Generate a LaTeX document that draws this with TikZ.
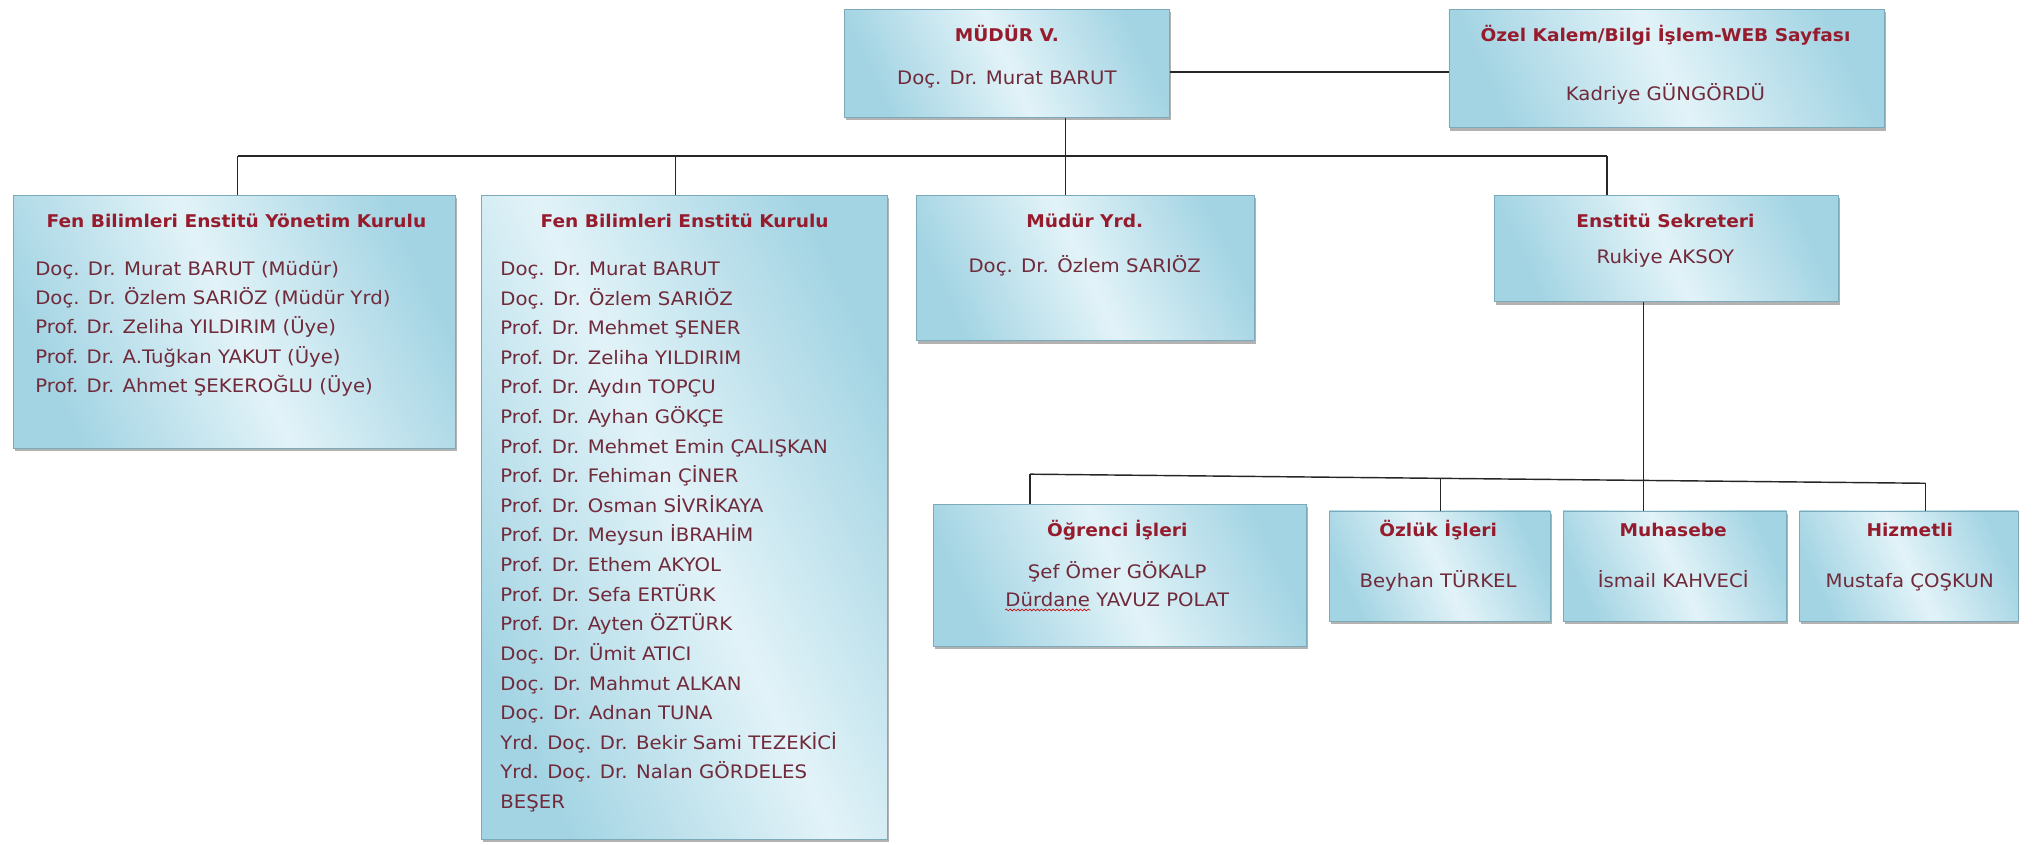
\documentclass[tikz,border=0pt]{standalone}
\usepackage{fontspec}
\setmainfont[FakeStretch=1.06]{DejaVu Sans}
\usetikzlibrary{shadows,calc,decorations.pathmorphing}
\definecolor{ttlc}{RGB}{150,28,45}
\definecolor{nmc}{RGB}{112,42,58}
\definecolor{bxA}{RGB}{226,243,248}
\definecolor{bxB}{RGB}{163,212,227}
\definecolor{bxline}{RGB}{125,170,185}
\tikzset{
  x=1pt, y=-1pt,
  box/.style={draw=bxline, line width=0.6pt, anchor=north west, inner sep=0pt,
    left color=bxB, right color=bxB, middle color=bxA, shading angle=115,
    drop shadow={shadow xshift=1.2pt, shadow yshift=-2.2pt, fill=black!55, opacity=0.55}},
  ttl/.style={font=\bfseries\fontsize{13.5}{16}\selectfont, text=ttlc, inner sep=0pt},
  nm/.style={font=\fontsize{14.3}{16}\selectfont, text=nmc, inner sep=0pt},
  con/.style={draw=black!85, line width=1.1pt},
}
\begin{document}
\begin{tikzpicture}
\useasboundingbox (0,0) rectangle (1568,650);
% boxes
\node[box, minimum width=250pt, minimum height=83pt] (mud) at (650,7) {};
\node[box, minimum width=335pt, minimum height=91pt] (ozel) at (1115,7) {};
\node[box, minimum width=340pt, minimum height=195pt] (yk) at (10,150) {};
\node[box, minimum width=313pt, minimum height=496pt] (kur) at (370,150) {};
\node[box, minimum width=260pt, minimum height=112pt] (my) at (705,150) {};
\node[box, minimum width=265pt, minimum height=82pt] (sek) at (1150,150) {};
\node[box, minimum width=287pt, minimum height=109pt] (ogr) at (718,388) {};
\node[box, minimum width=170pt, minimum height=85pt] (ozl) at (1023,393) {};
\node[box, minimum width=172pt, minimum height=85pt] (muh) at (1203,393) {};
\node[box, minimum width=168pt, minimum height=85pt] (hiz) at (1385,393) {};
% texts (base anchors, baseline = centre + 5)
\node[ttl, anchor=base] (t1) at (775,32) {MÜDÜR V.};
\node[nm, anchor=base] (n1) at (775,65) {Doç. Dr. Murat BARUT};
\node[ttl, anchor=base] (t2) at (1282,32) {Özel Kalem/Bilgi İşlem-WEB Sayfası};
\node[nm, anchor=base] (n2) at (1282,77) {Kadriye GÜNGÖRDÜ};
\node[ttl, anchor=base] (t3) at (182,175) {Fen Bilimleri Enstitü Yönetim Kurulu};
\foreach \t [count=\i from 0] in {Doç. Dr. Murat BARUT (Müdür),Doç. Dr. Özlem SARIÖZ (Müdür Yrd),Prof. Dr. Zeliha YILDIRIM (Üye),Prof. Dr. A.Tuğkan YAKUT (Üye),Prof. Dr. Ahmet ŞEKEROĞLU (Üye)}
  \node[nm, anchor=base west] (yl\i) at (27,212+22.5*\i) {\t};
\node[ttl, anchor=base] (t4) at (527,175) {Fen Bilimleri Enstitü Kurulu};
\foreach \t [count=\i from 0] in {Doç. Dr. Murat BARUT,Doç. Dr. Özlem SARIÖZ,Prof. Dr. Mehmet ŞENER,Prof. Dr. Zeliha YILDIRIM,Prof. Dr. Aydın TOPÇU,Prof. Dr. Ayhan GÖKÇE,Prof. Dr. Mehmet Emin ÇALIŞKAN,Prof. Dr. Fehiman ÇİNER,Prof. Dr. Osman SİVRİKAYA,Prof. Dr. Meysun İBRAHİM,Prof. Dr. Ethem AKYOL,Prof. Dr. Sefa ERTÜRK,Prof. Dr. Ayten ÖZTÜRK,Doç. Dr. Ümit ATICI,Doç. Dr. Mahmut ALKAN,Doç. Dr. Adnan TUNA,Yrd. Doç. Dr. Bekir Sami TEZEKİCİ,Yrd. Doç. Dr. Nalan GÖRDELES,BEŞER}
  \node[nm, anchor=base west] (kl\i) at (385,212+22.8*\i) {\t};
\node[ttl, anchor=base] (t5) at (835,175) {Müdür Yrd.};
\node[nm, anchor=base] (n5) at (835,210) {Doç. Dr. Özlem SARIÖZ};
\node[ttl, anchor=base] (t6) at (1282,175) {Enstitü Sekreteri};
\node[nm, anchor=base] (n6) at (1282,203) {Rukiye AKSOY};
\node[ttl, anchor=base] (t7) at (860,413) {Öğrenci İşleri};
\node[nm, anchor=base] (n7) at (860,445) {Şef Ömer GÖKALP};
\node[nm, anchor=base] (n7b) at (860,467) {\phantom{Dürdane} YAVUZ POLAT};
\node[nm, anchor=base west] (n7c) at (n7b.base west) {Dürdane};
\draw[red!80!black, line width=0.5pt, decorate, decoration={snake, amplitude=0.7pt, segment length=3pt}]
  ([yshift=-2.5pt]n7c.base west) -- ([yshift=-2.5pt]n7c.base east);
\node[ttl, anchor=base] (t8) at (1107,413) {Özlük İşleri};
\node[nm, anchor=base] (n8) at (1107,452) {Beyhan TÜRKEL};
\node[ttl, anchor=base] (t9) at (1288,413) {Muhasebe};
\node[nm, anchor=base] (n9) at (1288,452) {İsmail KAHVECİ};
\node[ttl, anchor=base] (t10) at (1470,413) {Hizmetli};
\node[nm, anchor=base] (n10) at (1470,452) {Mustafa ÇOŞKUN};
% connectors top
\coordinate (me) at ($(mud.south east)!0.42!(mud.north east)$);
\draw[con] (me) -- (me -| ozel.west);
\coordinate (b1) at (183,120);
\coordinate (b2) at (520,120);
\coordinate (b3) at (820,120);
\coordinate (b4) at (1237,120);
\draw[con] (mud.south -| b3) -- (b3);
\draw[con] (b1) -- (b4);
\draw[con] (b1) -- (b1 |- yk.north);
\draw[con] (b2) -- (b2 |- kur.north);
\draw[con] (b3) -- (b3 |- my.north);
\draw[con] (b4) -- (b4 |- sek.north);
% connectors bottom
\coordinate (c1) at (793,365);
\coordinate (c2) at (1109,368.2);
\coordinate (c3) at (1265,369.8);
\coordinate (c4) at (1482,372);
\draw[con] (sek.south -| c3) -- (c3);
\draw[con] (c1) -- (c4);
\draw[con] (c1) -- (c1 |- ogr.north);
\draw[con] (c2) -- (c2 |- ozl.north);
\draw[con] (c3) -- (c3 |- muh.north);
\draw[con] (c4) -- (c4 |- hiz.north);
\end{tikzpicture}
\end{document}
